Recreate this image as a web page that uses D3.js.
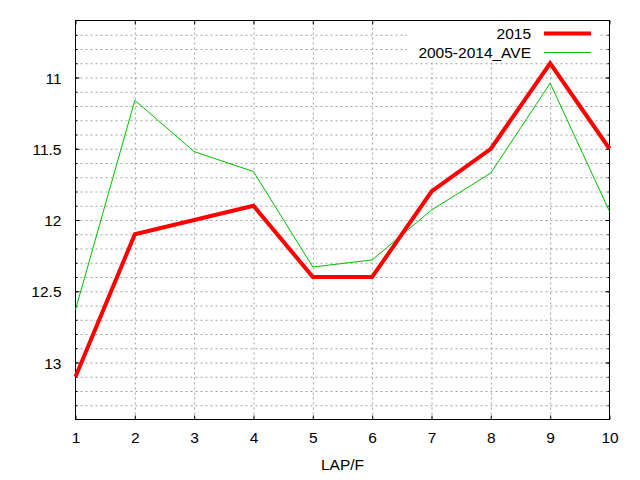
<!DOCTYPE html>
<html>
<head>
<meta charset="utf-8">
<script src="https://cdn.jsdelivr.net/npm/d3@7"></script>
<style>
html,body{margin:0;padding:0;background:#fff;}
svg{display:block;}
text{font-family:"Liberation Sans",Arial,sans-serif;font-size:15.5px;fill:#000;}
</style>
</head>
<body>
<svg id="chart" width="640" height="480"></svg>
<script>
// ---- data ----
const laps = [1, 2, 3, 4, 5, 6, 7, 8, 9, 10];
const series2015 = [13.1, 12.1, 12.0, 11.9, 12.4, 12.4, 11.8, 11.5, 10.9, 11.5];
const seriesAve = [12.63, 11.16, 11.52, 11.66, 12.33, 12.28, 11.93, 11.67, 11.04, 11.94];
const seriesNames = ["2015", "2005-2014_AVE"];
const yMajorTicks = [11, 11.5, 12, 12.5, 13];
const yMinorTicks = [10.7,10.8,10.9,11,11.1,11.2,11.3,11.4,11.5,11.6,11.7,11.8,11.9,12,12.1,12.2,12.3,12.4,12.5,12.6,12.7,12.8,12.9,13,13.1,13.2,13.3];
const xTicks = [1, 2, 3, 4, 5, 6, 7, 8, 9, 10];
const xLabel = "LAP/F";

// ---- layout ----
const L = 75.5, R = 609.5, T = 20.5, B = 419.5;
const svg = d3.select("#chart");
const x = d3.scaleLinear().domain([1, 10]).range([L, R]);
const y = d3.scaleLinear().domain([10.6, 13.4]).range([T, B]);

// grid
const gridStyle = g => {
  g.select(".domain").remove();
  g.selectAll(".tick line").attr("stroke", "#a0a0a0").attr("stroke-width", 1).attr("stroke-dasharray", "2,3");
};
svg.append("g").attr("transform", `translate(${L},0)`)
  .call(d3.axisLeft(y).tickValues(yMinorTicks).tickSize(-(R - L)).tickFormat(""))
  .call(gridStyle);
svg.append("g").attr("transform", `translate(0,${B})`)
  .call(d3.axisBottom(x).tickValues(xTicks.slice(1, -1)).tickSize(-(B - T)).tickFormat(""))
  .call(gridStyle);

// tick marks (inward)
const tickStyle = g => { g.select(".domain").remove(); g.selectAll(".tick line").attr("stroke", "#000"); };
svg.append("g").attr("transform", `translate(${L},0)`)
  .call(d3.axisLeft(y).tickValues(yMinorTicks).tickSize(-2).tickFormat("")).call(tickStyle);
svg.append("g").attr("transform", `translate(${L},0)`)
  .call(d3.axisLeft(y).tickValues(yMajorTicks).tickSize(-4).tickFormat("")).call(tickStyle);
svg.append("g").attr("transform", `translate(${R},0)`)
  .call(d3.axisRight(y).tickValues(yMinorTicks).tickSize(-2).tickFormat("")).call(tickStyle);
svg.append("g").attr("transform", `translate(${R},0)`)
  .call(d3.axisRight(y).tickValues(yMajorTicks).tickSize(-4).tickFormat("")).call(tickStyle);
svg.append("g").attr("transform", `translate(0,${B})`)
  .call(d3.axisBottom(x).tickValues(xTicks).tickSize(-4).tickFormat("")).call(tickStyle);
svg.append("g").attr("transform", `translate(0,${T})`)
  .call(d3.axisTop(x).tickValues(xTicks).tickSize(-4).tickFormat("")).call(tickStyle);

// tick labels
const yl = svg.append("g").attr("transform", `translate(${L},0)`)
  .call(d3.axisLeft(y).tickValues(yMajorTicks).tickSize(0).tickPadding(14).tickFormat(d3.format("")));
yl.select(".domain").remove();
yl.selectAll("text").attr("font-size", null).attr("font-family", null).attr("dy", "0.36em");
const xl = svg.append("g").attr("transform", `translate(0,${B})`)
  .call(d3.axisBottom(x).tickValues(xTicks).tickSize(0).tickPadding(12).tickFormat(d3.format("d")));
xl.select(".domain").remove();
xl.selectAll("text").attr("font-size", null).attr("font-family", null);

// legend box (opaque)
svg.append("rect").attr("x", 407).attr("y", 21).attr("width", 192).attr("height", 40).attr("fill", "#fff");

// border
svg.append("rect").attr("x", L).attr("y", T).attr("width", R - L).attr("height", B - T)
  .attr("fill", "none").attr("stroke", "#000").attr("stroke-width", 1);

// lines
const line = d3.line().x((d, i) => x(laps[i])).y(d => y(d));
svg.append("path").datum(seriesAve).attr("d", line)
  .attr("fill", "none").attr("stroke", "#00c000").attr("stroke-width", 1);
svg.append("path").datum(series2015).attr("d", line)
  .attr("fill", "none").attr("stroke", "#ff0000").attr("stroke-width", 4).attr("stroke-linejoin", "miter");

// legend
const legend = [
  {name: seriesNames[0], color: "#ff0000", w: 4, yy: 33},
  {name: seriesNames[1], color: "#00c000", w: 1, yy: 52}
];
legend.forEach(d => {
  svg.append("text").attr("x", 531).attr("y", d.yy).attr("dy", "0.36em").attr("text-anchor", "end").text(d.name);
  svg.append("line").attr("x1", 544).attr("x2", 591).attr("y1", d.yy + 0.5).attr("y2", d.yy + 0.5)
    .attr("stroke", d.color).attr("stroke-width", d.w);
});

// x label
svg.append("text").attr("x", (L + R) / 2).attr("y", 470).attr("text-anchor", "middle").text(xLabel);
</script>
</body>
</html>
